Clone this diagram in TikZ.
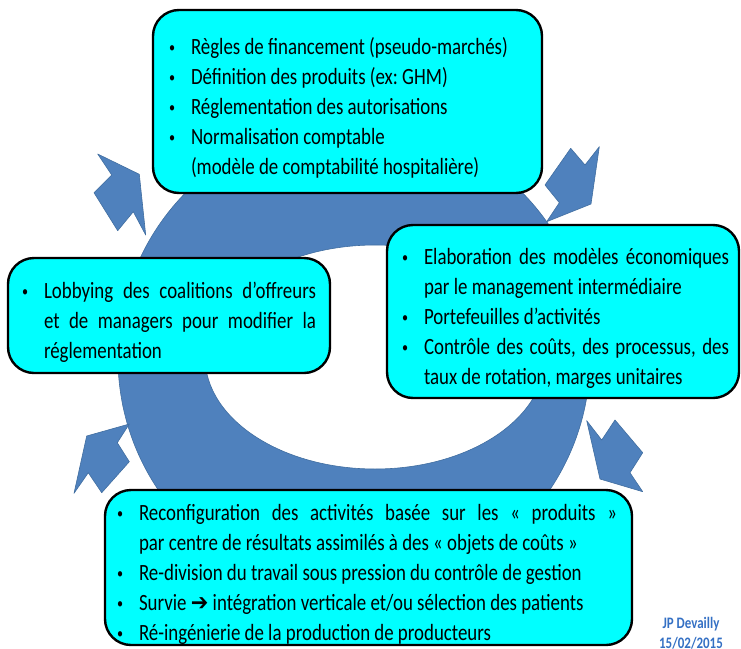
\documentclass[tikz,border=0pt]{standalone}
\usepackage{fontspec}
\setmainfont{Carlito}[FakeStretch=0.81]
\newfontfamily\arrowfont{DejaVu Sans}[FakeStretch=0.9]
\usepackage{tikz}

\definecolor{ringblue}{RGB}{79,129,189}
\definecolor{ringline}{RGB}{65,110,160}
\definecolor{boxcyan}{RGB}{0,255,255}
\definecolor{signblue}{RGB}{52,112,196}

% one bullet line with hanging indent
\newcommand{\bul}[1]{\par\hangindent=22pt\hangafter=1\noindent\makebox[22pt][l]{\raisebox{2pt}{\fontsize{15}{15}\selectfont•}}#1\par}
\newcommand{\nobreaks}{\frenchspacing\hyphenpenalty=10000 \exhyphenpenalty=10000 \tolerance=10000 }

\begin{document}
\begin{tikzpicture}[x=1pt,y=-1pt,
    ring/.style={fill=ringblue,draw=ringline,line width=0.6pt},
    cyc/.style={fill=ringblue,draw=ringline,line width=0.6pt,line join=round},
    panel/.style={draw=black,line width=2.4pt,fill=boxcyan,rounded corners=26pt,inner sep=0pt},
    items/.style={inner sep=0pt,anchor=west,align=justify,font=\fontsize{23.3}{30}\selectfont}]
  \useasboundingbox (0,0) rectangle (741,648);

  % ring
  \path[ring,even odd rule] (354,358) circle [radius=236] (375,357) ellipse [x radius=170,y radius=112];

  % arrows round the ring
  \path[cyc] (97.7,154) -- (139.3,174.3) -- (145.7,235) -- (133.3,211.7) -- (117.7,230.7) -- (94,192.7) -- (111.7,175) -- cycle;
  \path[cyc] (570.7,148.3) -- (585,165) -- (599.3,146.7) -- (591,204) -- (546.7,221.7) -- (559.3,202.7) -- (545,185) -- cycle;
  \path[cyc] (586.7,420.7) -- (601.7,440) -- (615,420) -- (642.7,452.7) -- (630,472.7) -- (642.7,491.7) -- (600,479) -- cycle;
  \path[cyc] (129.3,424) -- (86.7,436) -- (74,493.3) -- (88.3,472.7) -- (101.7,492.7) -- (129.3,461.7) -- (117.3,442.7) -- cycle;

  \node[panel,minimum width=389pt,minimum height=183pt] (regle) at (347.5,101.5) {};
  \node[items,text width=360pt,xshift=17pt] (regletxt) at (regle.west) {\nobreaks
    \bul{Règles de financement (pseudo-marchés)}
    \bul{Définition des produits (ex: GHM)}
    \bul{Réglementation des autorisations}
    \bul{Normalisation comptable\newline (modèle de comptabilité hospitalière)}};

  \node[panel,minimum width=352pt,minimum height=173pt] (modele) at (563,311.5) {};
  \node[items,text width=327pt,xshift=16pt] (modeletxt) at (modele.west) {\nobreaks
    \bul{Elaboration des modèles économiques\linebreak par le management intermédiaire}
    \bul{Portefeuilles d’activités}
    \bul{Contrôle des coûts, des processus, des\linebreak taux de rotation, marges unitaires}};

  \node[panel,minimum width=322pt,minimum height=115pt] (lobby) at (169,315.5) {};
  \node[items,text width=294pt,xshift=15pt] (lobbytxt) at (lobby.west) {\nobreaks
    \bul{Lobbying des coalitions d’offreurs\linebreak et de managers pour modifier la\linebreak réglementation}};

  \node[panel,minimum width=527pt,minimum height=155pt] (reconf) at (368.5,567.5) {};
  \node[items,text width=500pt,xshift=13pt] (reconftxt) at (reconf.west) {\nobreaks
    \bul{Reconfiguration des activités basée sur les « produits »\linebreak par centre de résultats assimilés à des « objets de coûts »}
    \bul{Re-division du travail sous pression du contrôle de gestion}
    \bul{Survie {\arrowfont\bfseries ➔} intégration verticale et/ou sélection des patients}
    \bul{Ré-ingénierie de la production de producteurs}};

  \node[anchor=north,inner sep=0pt,align=center,text=signblue,
        font=\bfseries\fontsize{16}{20}\selectfont] (sign) at (691,617) {JP Devailly\\15/02/2015};
\end{tikzpicture}
\end{document}
